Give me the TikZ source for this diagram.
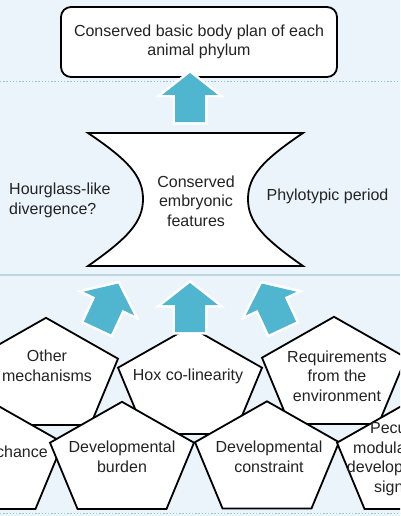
\documentclass[tikz,border=0pt]{standalone}
\usepackage{fontspec}
\setmainfont{Liberation Sans}
\definecolor{bg}{RGB}{234,244,250}
\definecolor{bandline}{RGB}{188,214,226}
\definecolor{dotline}{RGB}{150,196,218}
\definecolor{arrowblue}{RGB}{80,182,208}
\definecolor{txt}{RGB}{35,35,35}
\tikzset{
  lbl/.style={font=\fontsize{16pt}{19.5pt}\selectfont, text=txt, align=center, inner sep=0pt},
  shapeline/.style={draw=black, line width=1.8pt, fill=white, line join=miter},
  dotrule/.style={dotline, line width=1.4pt, dash pattern=on 1.4pt off 1.8pt},
  blockarrow/.pic={
    \path[preaction={draw=white, line width=5pt, line join=miter}, fill=arrowblue]
      (-15,0) -- (-15,-27) -- (-28,-27) -- (0,-49) -- (28,-27) -- (15,-27) -- (15,0) -- cycle;
  }
}
\newcommand\pentagonat[2]{%
  \path[shapeline] (#1,#2-59.2) -- (#1+72,#2-18.3) -- (#1+44.5,#2+47.9)
    -- (#1-44.5,#2+47.9) -- (#1-72,#2-18.3) -- cycle;}
\begin{document}
\begin{tikzpicture}[x=1pt, y=-1pt]
\useasboundingbox (0,0) rectangle (400,516);
\clip (0,0) rectangle (400,516);
\fill[bg] (0,0) rectangle (400,516);
% band rules
\coordinate (r1l) at (0,81.5);   \coordinate (r1r) at (400,81.5);
\coordinate (r2l) at (0,275);    \coordinate (r2r) at (400,275);
\coordinate (r3l) at (0,513.5);  \coordinate (r3r) at (400,513.5);
\draw[dotrule] (r1l) -- (r1r);
\draw[bandline, line width=2pt] (r2l) -- (r2r);
\draw[dotrule] (r3l) -- (r3r);
% top box
\node[lbl, draw=black, line width=1.8pt, fill=white, rounded corners=10pt,
      minimum width=276pt, minimum height=70pt] (top) at (199,42)
      {Conserved basic body plan of each\\animal phylum};
% hourglass
\path[shapeline] (88,133) -- (303,133)
  .. controls (263,160) and (248,176) .. (248,199)
  .. controls (248,222) and (263,238) .. (303,266)
  -- (88,266)
  .. controls (128,238) and (143,222) .. (143,199)
  .. controls (143,176) and (128,160) .. (88,133) -- cycle;
\node[lbl] (core) at (196,201) {Conserved\\embryonic\\features};
\node[lbl, anchor=west, align=left] (hg) at (9,200.5) {Hourglass-like\\divergence?};
\node[lbl] (phylo) at (327.5,196) {Phylotypic period};
% upper row of pentagons
\pentagonat{46}{377}
\node[lbl] (other) at (47,366) {Other\\mechanisms};
\pentagonat{190}{386}
\node[lbl] (hox) at (188,376) {Hox co-linearity};
\pentagonat{334}{376}
\node[lbl] (req) at (337,376) {Requirements\\from the\\environment};
% lower row of pentagons
\pentagonat{-9}{461}
\node[lbl, anchor=east] (chance) at (48,452) {chance};
\pentagonat{122}{461}
\node[lbl] (burden) at (122,457) {Developmental\\burden};
\pentagonat{267}{460.5}
\node[lbl] (constraint) at (269,457) {Developmental\\constraint};
\pentagonat{409}{461}
\node[lbl] (peculiar) at (399,459) {Peculiar\\modularity of\\developmental\\signals};
% block arrows
\pic at (190,122) {blockarrow};
\pic at (190,332) {blockarrow};
\pic[rotate=-25] at (97.5,328) {blockarrow};
\pic[rotate=25] at (282.5,328) {blockarrow};
\end{tikzpicture}
\end{document}
